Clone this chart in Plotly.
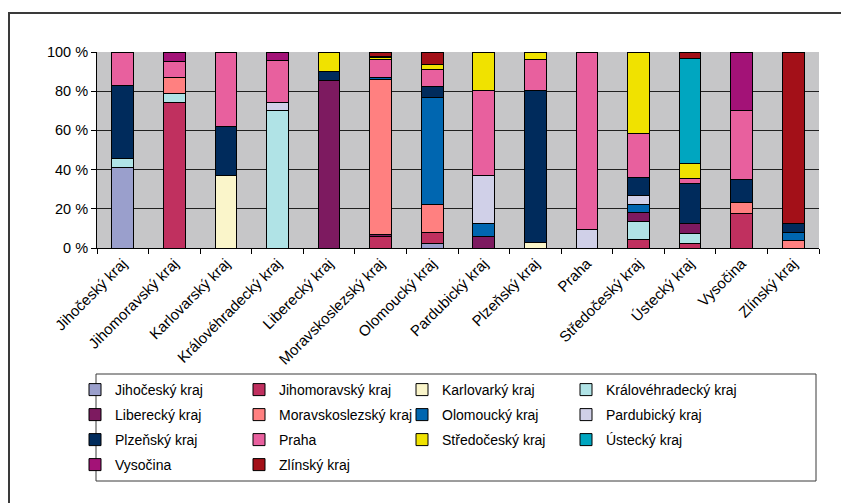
import plotly.graph_objects as go

categories = ["Jihočeský kraj", "Jihomoravský kraj", "Karlovarský kraj", "Královéhradecký kraj",
              "Liberecký kraj", "Moravskoslezský kraj", "Olomoucký kraj", "Pardubický kraj",
              "Plzeňský kraj", "Praha", "Středočeský kraj", "Ústecký kraj", "Vysočina", "Zlínský kraj"]

series_names = ["Jihočeský kraj", "Jihomoravský kraj", "Karlovarký kraj", "Královéhradecký kraj",
                "Liberecký kraj", "Moravskoslezský kraj", "Olomoucký kraj", "Pardubický kraj",
                "Plzeňský kraj", "Praha", "Středočeský kraj", "Ústecký kraj", "Vysočina", "Zlínský kraj"]

# percentage shares (each category stacks to 100 %)
jihocesky       = [41.2, 0, 0, 0, 0, 0, 2.4, 0, 0, 0, 0, 0, 0, 0]
jihomoravsky    = [0, 74.3, 0, 0, 0, 5.8, 5.6, 0, 0, 0, 4.4, 2.4, 17.7, 0]
karlovarky      = [0, 0, 37.1, 0, 0, 0, 0, 0, 2.9, 0, 0, 0, 0, 0]
kralovehradecky = [4.4, 4.3, 0, 70.2, 0, 0, 0, 0, 0, 0, 8.9, 5.1, 0, 0]
liberecky       = [0, 0, 0, 0, 85.4, 1.0, 0, 6.0, 0, 0, 4.7, 4.9, 0, 0]
moravskoslezsky = [0, 8.5, 0, 0, 0, 78.8, 14.3, 0, 0, 0, 0, 0, 5.6, 3.9]
olomoucky       = [0, 0, 0, 0, 0, 1.0, 54.6, 6.4, 0, 0, 4.3, 0, 0, 4.1]
pardubicky      = [0, 0, 0, 3.8, 0, 0, 0, 24.7, 0, 9.2, 4.7, 0, 0, 0]
plzensky        = [37.2, 0, 25.1, 0, 4.8, 0, 5.4, 0, 77.7, 0, 9.1, 20.6, 11.7, 4.4]
praha           = [17.2, 8.3, 37.8, 21.9, 0, 8.9, 8.9, 43.3, 15.8, 90.8, 22.4, 2.4, 35.2, 0]
stredocesky     = [0, 0, 0, 0, 9.9, 1.3, 2.5, 19.6, 3.6, 0, 41.5, 7.8, 0, 0]
ustecky         = [0, 0, 0, 0, 0, 0, 0, 0, 0, 0, 0, 53.6, 0, 0]
vysocina        = [0, 4.6, 0, 4.1, 0, 0.4, 0, 0, 0, 0, 0, 0, 29.8, 0]
zlinsky         = [0, 0, 0, 0, 0, 2.2, 6.3, 0, 0, 0, 0, 3.2, 0, 87.6]

series_values = [jihocesky, jihomoravsky, karlovarky, kralovehradecky, liberecky, moravskoslezsky,
                 olomoucky, pardubicky, plzensky, praha, stredocesky, ustecky, vysocina, zlinsky]

colors = ["#9A9FCC", "#C0305F", "#FAF5CA", "#B0E3E6", "#7D1A60", "#FF8080", "#0066B0",
          "#D0D0E8", "#002B5C", "#E8609E", "#F0E200", "#00A6C0", "#A31277", "#A31018"]

y_ticks = [0, 20, 40, 60, 80, 100]
y_tick_labels = ["0 %", "20 %", "40 %", "60 %", "80 %", "100 %"]

FONT = dict(family="Liberation Sans, Arial, sans-serif", size=14.5, color="#000000")
XFONT = dict(family="Liberation Sans, Arial, sans-serif", size=15, color="#000000")
LFONT = dict(family="Liberation Sans, Arial, sans-serif", size=14, color="#000000")

# plot area geometry (pixels)
L, R, T, B = 97, 819, 52, 248
W, H = 841, 503
PW, PH = R - L, B - T


def px_x(X):
    return (X - L) / PW


def px_y(Y):
    return (B - Y) / PH


# legend grid: 4 columns x 4 rows, one small legend per entry
col_text_x = [115, 279, 442, 606]
row_y = [390, 415, 440, 465]

fig = go.Figure()
legend_cfg = {}
for i, (name, vals, col) in enumerate(zip(series_names, series_values, colors)):
    lg = "legend" if i == 0 else f"legend{i + 1}"
    fig.add_trace(go.Bar(
        x=categories,
        y=[v if v else None for v in vals],
        name=name,
        marker=dict(color=col, line=dict(color="#000000", width=1)),
        legend=lg,
    ))
    legend_cfg[lg] = dict(
        orientation="v",
        x=px_x(col_text_x[i % 4] - 40), xanchor="left",
        y=px_y(row_y[i // 4]), yanchor="middle",
        bgcolor="rgba(0,0,0,0)", borderwidth=0, font=LFONT,
        itemclick=False, itemdoubleclick=False,
    )

fig.update_layout(
    width=W, height=H,
    margin=dict(l=L, r=W - R, t=T, b=H - B, pad=0),
    paper_bgcolor="#FFFFFF",
    plot_bgcolor="#C6C6C8",
    barmode="stack",
    barnorm="percent",
    bargap=0.58,
    font=FONT,
    showlegend=True,
    **legend_cfg,
)

fig.update_xaxes(
    type="category", tickangle=-45, tickson="boundaries",
    ticks="outside", ticklen=5, tickcolor="#000000",
    showline=True, linecolor="#000000", linewidth=1,
    showgrid=False, tickfont=XFONT,
)
fig.update_yaxes(
    range=[0, 100], tickmode="array", tickvals=y_ticks, ticktext=y_tick_labels,
    ticks="outside", ticklen=5, tickcolor="#000000",
    showline=True, linecolor="#000000", linewidth=1,
    showgrid=True, gridcolor="#202020", gridwidth=1,
    zeroline=False, tickfont=FONT,
)

# outer chart frame and legend box
fig.add_shape(type="rect", xref="paper", yref="paper",
              x0=px_x(9), x1=px_x(860), y0=px_y(13), y1=px_y(520),
              line=dict(color="#3A3A3A", width=2), fillcolor="rgba(0,0,0,0)", layer="below")
fig.add_shape(type="rect", xref="paper", yref="paper",
              x0=px_x(96), x1=px_x(816), y0=px_y(374), y1=px_y(481),
              line=dict(color="#3A3A3A", width=1), fillcolor="rgba(0,0,0,0)", layer="above")

fig.write_html("out.html")
